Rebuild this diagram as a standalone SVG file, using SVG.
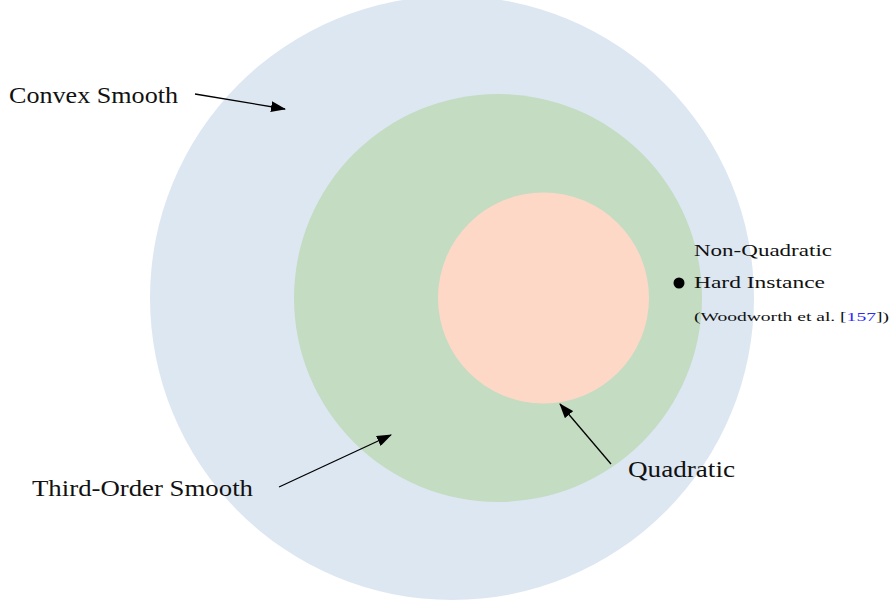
<svg xmlns="http://www.w3.org/2000/svg" width="891" height="607" viewBox="0 0 891 607">
<defs>
<marker id="ah" viewBox="0 0 15 11" refX="14" refY="5.5" markerWidth="15" markerHeight="11" markerUnits="userSpaceOnUse" orient="auto">
<path d="M0,0 L15,5.5 L0,11 Z" fill="#000"/>
</marker>
<style>
.lbl{font-family:"Liberation Serif","DejaVu Serif",serif;fill:#111}
.big{font-size:22.5px}
.mid{font-size:17px}
.sm{font-size:12px}
.arr{stroke:#000;stroke-width:1.3;fill:none;marker-end:url(#ah)}
</style>
</defs>
<rect width="891" height="607" fill="#fff"/>
<g id="convex"><circle cx="452" cy="298" r="302" fill="#dde7f2"/></g>
<g id="thirdorder"><circle cx="498" cy="298" r="204" fill="#c4dcc2"/></g>
<g id="quadratic"><circle cx="543.5" cy="298" r="105.5" fill="#fdd8c7"/></g>
<g id="hardinstance">
<circle cx="679" cy="283" r="5.5" fill="#000"/>
<text class="lbl mid" x="694" y="256" textLength="138" lengthAdjust="spacingAndGlyphs">Non-Quadratic</text>
<text class="lbl mid" x="694" y="288" textLength="131" lengthAdjust="spacingAndGlyphs">Hard Instance</text>
<text class="lbl sm" x="694" y="321" textLength="195" lengthAdjust="spacingAndGlyphs">(Woodworth et al. [<tspan fill="#2a2aff">157</tspan>])</text>
</g>
<g id="labels">
<text class="lbl big" x="9" y="103" textLength="169" lengthAdjust="spacingAndGlyphs">Convex Smooth</text>
<text class="lbl big" x="32" y="496" textLength="221" lengthAdjust="spacingAndGlyphs">Third-Order Smooth</text>
<text class="lbl big" x="628" y="477" textLength="107" lengthAdjust="spacingAndGlyphs">Quadratic</text>
</g>
<g id="connectors">
<line class="arr" x1="195" y1="94" x2="285" y2="109"/>
<line class="arr" x1="279" y1="487" x2="391" y2="435"/>
<line class="arr" x1="611" y1="464" x2="560" y2="404"/>
</g>
</svg>
